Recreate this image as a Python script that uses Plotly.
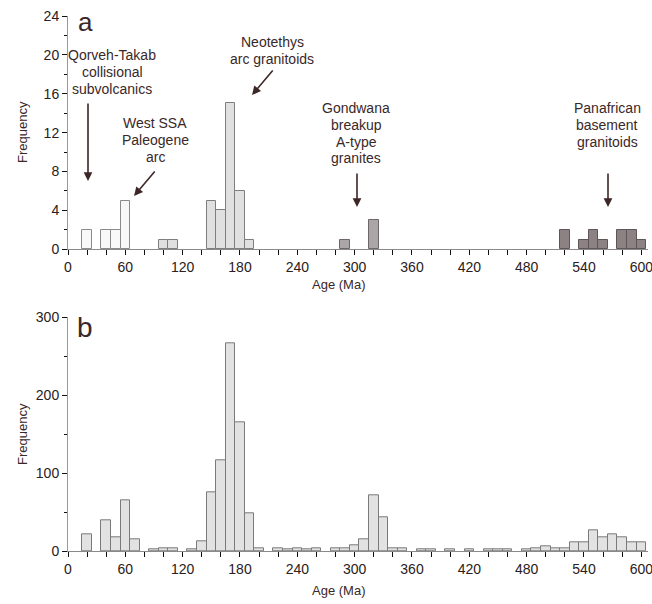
import plotly.graph_objects as go

# ---------------- data ----------------
# Panel a (bin centres in Ma, counts)
a_white_age = [20, 40, 50, 60]
a_white_n = [2, 2, 2, 5]
a_light_age = [100, 110, 150, 160, 170, 180, 190]
a_light_n = [1, 1, 5, 4, 15, 6, 1]
a_mid_age = [290, 320]
a_mid_n = [1, 3]
a_dark_age = [520, 540, 550, 560, 580, 590, 600]
a_dark_n = [2, 1, 2, 1, 2, 2, 1]

# Panel b
b_age = [20, 40, 50, 60, 70, 90, 100, 110, 130, 140, 150, 160, 170, 180, 190, 200,
         220, 230, 240, 250, 260, 280, 290, 300, 310, 320, 330, 340, 350, 370, 380,
         400, 420, 440, 450, 460, 480, 490, 500, 510, 520, 530, 540, 550, 560, 570,
         580, 590, 600]
b_n = [21, 40, 18, 65, 15, 2, 4, 4, 2, 12, 76, 116, 267, 165, 48, 4,
       3, 2, 3, 2, 4, 3, 4, 7, 15, 71, 43, 4, 3, 2, 2,
       2, 2, 2, 2, 2, 2, 4, 6, 3, 4, 11, 11, 27, 18, 21,
       18, 11, 11]

x_ticks = [0, 60, 120, 180, 240, 300, 360, 420, 480, 540, 600]
a_y_ticks = [0, 4, 8, 12, 16, 20, 24]
b_y_ticks = [0, 100, 200, 300]

# ---------------- layout helpers ----------------
W, H = 652, 604
TXT = "#3a2828"
FONT = "Liberation Sans, Arial, sans-serif"


def px(x):
    return x / W


def py(y):
    return 1 - y / H


fig = go.Figure()


def bars(xs, ys, fill, line, xa, ya):
    fig.add_trace(go.Bar(x=xs, y=ys, width=10, marker=dict(color=fill, line=dict(color=line, width=1)),
                         xaxis=xa, yaxis=ya, showlegend=False, hoverinfo="x+y"))


bars(a_white_age, a_white_n, "#f7f8f7", "#8a8a8a", "x", "y")
bars(a_light_age, a_light_n, "#e0e0e0", "#7e7e7e", "x", "y")
bars(a_mid_age, a_mid_n, "#aaa5a6", "#6e6667", "x", "y")
bars(a_dark_age, a_dark_n, "#8c8183", "#5f5557", "x", "y")
bars(b_age, b_n, "#e2e2e2", "#7a7a7a", "x2", "y2")

xdom = [px(68), px(648)]
common_x = dict(range=[0, 607], tickvals=x_ticks, ticks="outside", ticklen=5, tickwidth=1,
                tickcolor="#111", showline=True, linecolor="#8a8a8a", linewidth=1,
                showgrid=False, zeroline=False, automargin=False, ticklabeloverflow="allow",
                minor=dict(dtick=20, tick0=0, ticks="outside", ticklen=5, tickcolor="#111", tickwidth=1),
                tickfont=dict(family=FONT, size=14, color="#2a2020"), domain=xdom)
common_y = dict(ticks="outside", ticklen=5, tickwidth=1, tickcolor="#111", showline=True,
                linecolor="#999", linewidth=1, showgrid=False, zeroline=False, automargin=False,
                ticklabeloverflow="allow",
                tickfont=dict(family=FONT, size=14, color="#2a2020"))

fig.update_layout(
    width=W, height=H, autosize=False, margin=dict(l=0, r=0, t=0, b=0, autoexpand=False),
    paper_bgcolor="white", plot_bgcolor="white", barmode="overlay", bargap=0,
    xaxis=dict(**common_x, anchor="y"),
    yaxis=dict(**common_y, range=[0, 24], tickvals=a_y_ticks, anchor="x",
               domain=[py(249.3), py(16)],
               minor=dict(dtick=2, tick0=0, ticks="outside", ticklen=3, tickcolor="#111")),
    xaxis2=dict(**common_x, anchor="y2"),
    yaxis2=dict(**common_y, range=[0, 300], tickvals=b_y_ticks, anchor="x2",
                domain=[py(551), py(317.3)],
                minor=dict(dtick=50, tick0=0, ticks="outside", ticklen=3, tickcolor="#111")),
    font=dict(family=FONT, color=TXT),
)

ann = []


def label(text, x, y, size=14, angle=0):
    ann.append(dict(text=text, x=px(x), y=py(y), xref="paper", yref="paper", showarrow=False,
                    font=dict(family=FONT, size=size, color=TXT), textangle=angle,
                    xanchor="center", yanchor="middle"))


def lines(texts, x, y0, step=16.8, size=14):
    for i, t in enumerate(texts):
        label(t, x, y0 + i * step, size=size)


def arrow(tail, tip):
    ann.append(dict(text="", x=px(tip[0]), y=py(tip[1]), xref="paper", yref="paper",
                    ax=tail[0] - tip[0], ay=tail[1] - tip[1], showarrow=True,
                    arrowhead=2, arrowsize=1.1, arrowwidth=1.6, arrowcolor="#3d2626"))


label("a", 86, 22, size=26)
label("b", 85, 327, size=28)
label("Frequency", 22, 132, size=13, angle=-90)
label("Frequency", 22, 434, size=13, angle=-90)
label("Age (Ma)", 338, 284, size=13)
label("Age (Ma)", 338, 590, size=13)

lines(["Qorveh-Takab", "collisional", "subvolcanics"], 112, 55)
arrow((88, 102), (88, 181))
lines(["West SSA", "Paleogene", "arc"], 155, 123)
arrow((156, 170), (134, 196))
lines(["Neotethys", "arc granitoids"], 272, 42)
arrow((274, 69), (252, 95))
lines(["Gondwana", "breakup", "A-type", "granites"], 356, 108)
arrow((357, 172), (357, 207))
lines(["Panafrican", "basement", "granitoids"], 607, 108)
arrow((608, 172), (608, 207))

fig.update_layout(annotations=ann)
fig.write_html(
    "out.html",
    config={"responsive": False, "displayModeBar": False},
    post_script="document.body.style.margin='0';document.documentElement.style.overflow='hidden';",
)
